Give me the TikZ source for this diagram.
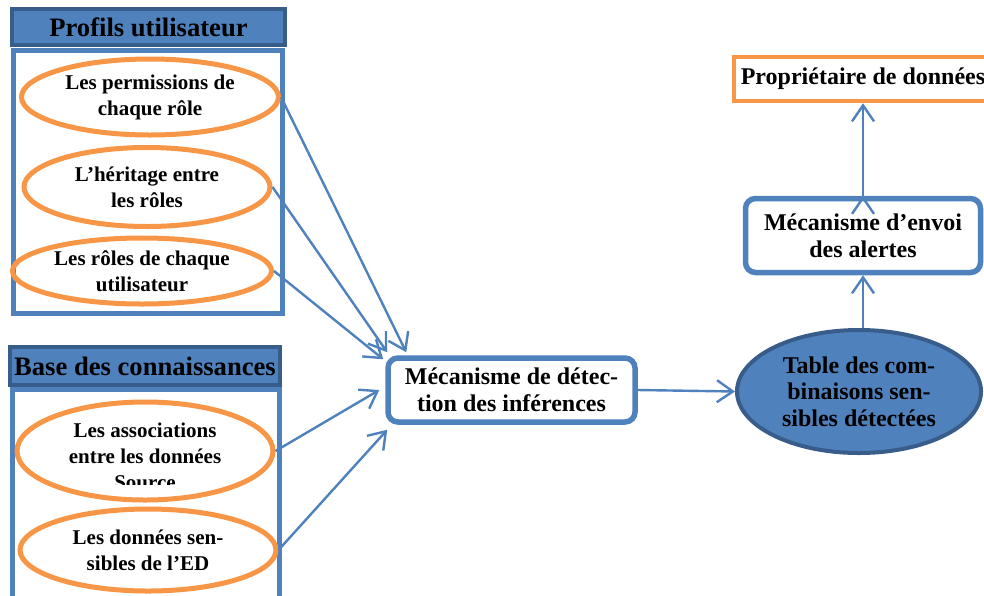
\documentclass[tikz,border=0pt]{standalone}
\usepackage{fontspec}
\setmainfont{Liberation Serif}
\usetikzlibrary{arrows.meta}
\usetikzlibrary{shapes.geometric}
\usetikzlibrary{positioning}

\definecolor{blocblue}{HTML}{4F81BD}
\definecolor{blocdark}{HTML}{385D8A}
\definecolor{bulleorange}{HTML}{F79646}

\begin{document}
\begin{tikzpicture}[x=0.5pt,y=-0.5pt]
      \tikzset{
        every node/.style={align=center, inner sep=0pt},
        titre/.style={rectangle, draw=blocdark, fill=blocblue, line width=2pt,
          font=\fontsize{13.3}{16}\selectfont\bfseries},
        cadre/.style={rectangle, draw=blocblue, line width=2.5pt},
        bulle/.style={ellipse, draw=bulleorange, line width=2.5pt,
          font=\fontsize{10.5}{13}\selectfont\bfseries},
        etape/.style={rectangle, rounded corners=5pt, draw=blocblue, line width=2.75pt,
          font=\fontsize{12}{13.5}\selectfont\bfseries},
        lien/.style={draw=blocblue, line width=1.2pt, -{Straight Barb[length=8pt,width=11pt]}},
      }
      \useasboundingbox (0,0) rectangle (984,595);

      % profils utilisateur
      \node[cadre, minimum width=134.5pt, minimum height=131.5pt] (profils) at (147.5,181.5) {};
      \node[titre, minimum width=136.5pt, minimum height=18pt] (titreprofils) at (148.5,27) {Profils utilisateur};
      \node[bulle, minimum width=128.5pt, minimum height=38pt] (perm) at (150,97) {Les permissions de\\chaque rôle};
      \node[bulle, minimum width=123pt, minimum height=39.5pt] (herit) at (147,187) {L’héritage entre\\les rôles};
      \node[bulle, minimum width=129.5pt, minimum height=33pt] (roles) at (142,271) {Les rôles de chaque\\utilisateur};

      % base des connaissances
      \node[cadre, minimum width=133.5pt, minimum height=125.5pt] (base) at (145.5,514.5) {};
      \node[titre, minimum width=135pt, minimum height=19pt] (titrebase) at (145,366) {Base des connaissances};
      \node[bulle, minimum width=128pt, minimum height=49pt] (assoc) at (145,451) {};
      \begin{scope}
        \clip (0,400) rectangle (300,484);
        \node[font=\fontsize{10.5}{13}\selectfont\bfseries] (assoctexte) at (145,456) {Les associations\\entre les données\\Source};
      \end{scope}
      \node[bulle, minimum width=128pt, minimum height=41pt] (sensibles) at (148,550) {Les données sen-\\sibles de l’ED};

      % mecanismes
      \node[etape, minimum width=123.5pt, minimum height=32pt] (det) at (511.5,390) {Mécanisme de détec-\\tion des inférences};
      \node[ellipse, draw=blocdark, fill=blocblue, line width=2pt, minimum width=122pt, minimum height=61.5pt,
        font=\fontsize{12}{13.3}\selectfont\bfseries] (table) at (859,391.5) {Table des com-\\binaisons sen-\\sibles détectées};
      \node[etape, minimum width=117.5pt, minimum height=37pt] (alerte) at (863,235.5) {Mécanisme d’envoi\\des alertes};
      \node[rectangle, draw=bulleorange, line width=2.25pt, minimum width=129pt, minimum height=22pt,
        font=\fontsize{12}{13.5}\selectfont\bfseries] (proprio) at (863,79) {Propriétaire de données};

      \draw[lien]
        (perm.east) edge ([xshift=10.5pt,yshift=1.5pt]det.north west)
        (herit.east) edge ([xshift=1pt,yshift=1.5pt]det.north west)
        (roles.east) edge ([xshift=-1pt,yshift=-2pt]det.north west)
        (assoc.east) edge ([xshift=-3pt]det.west)
        (sensibles.east) edge ([xshift=1pt,yshift=-2.5pt]det.south west)
        (det.east) edge (table.west)
        (alerte.south |- table.north) edge (alerte.south)
        (alerte.north) edge (proprio.south);
    \end{tikzpicture}
\end{document}
